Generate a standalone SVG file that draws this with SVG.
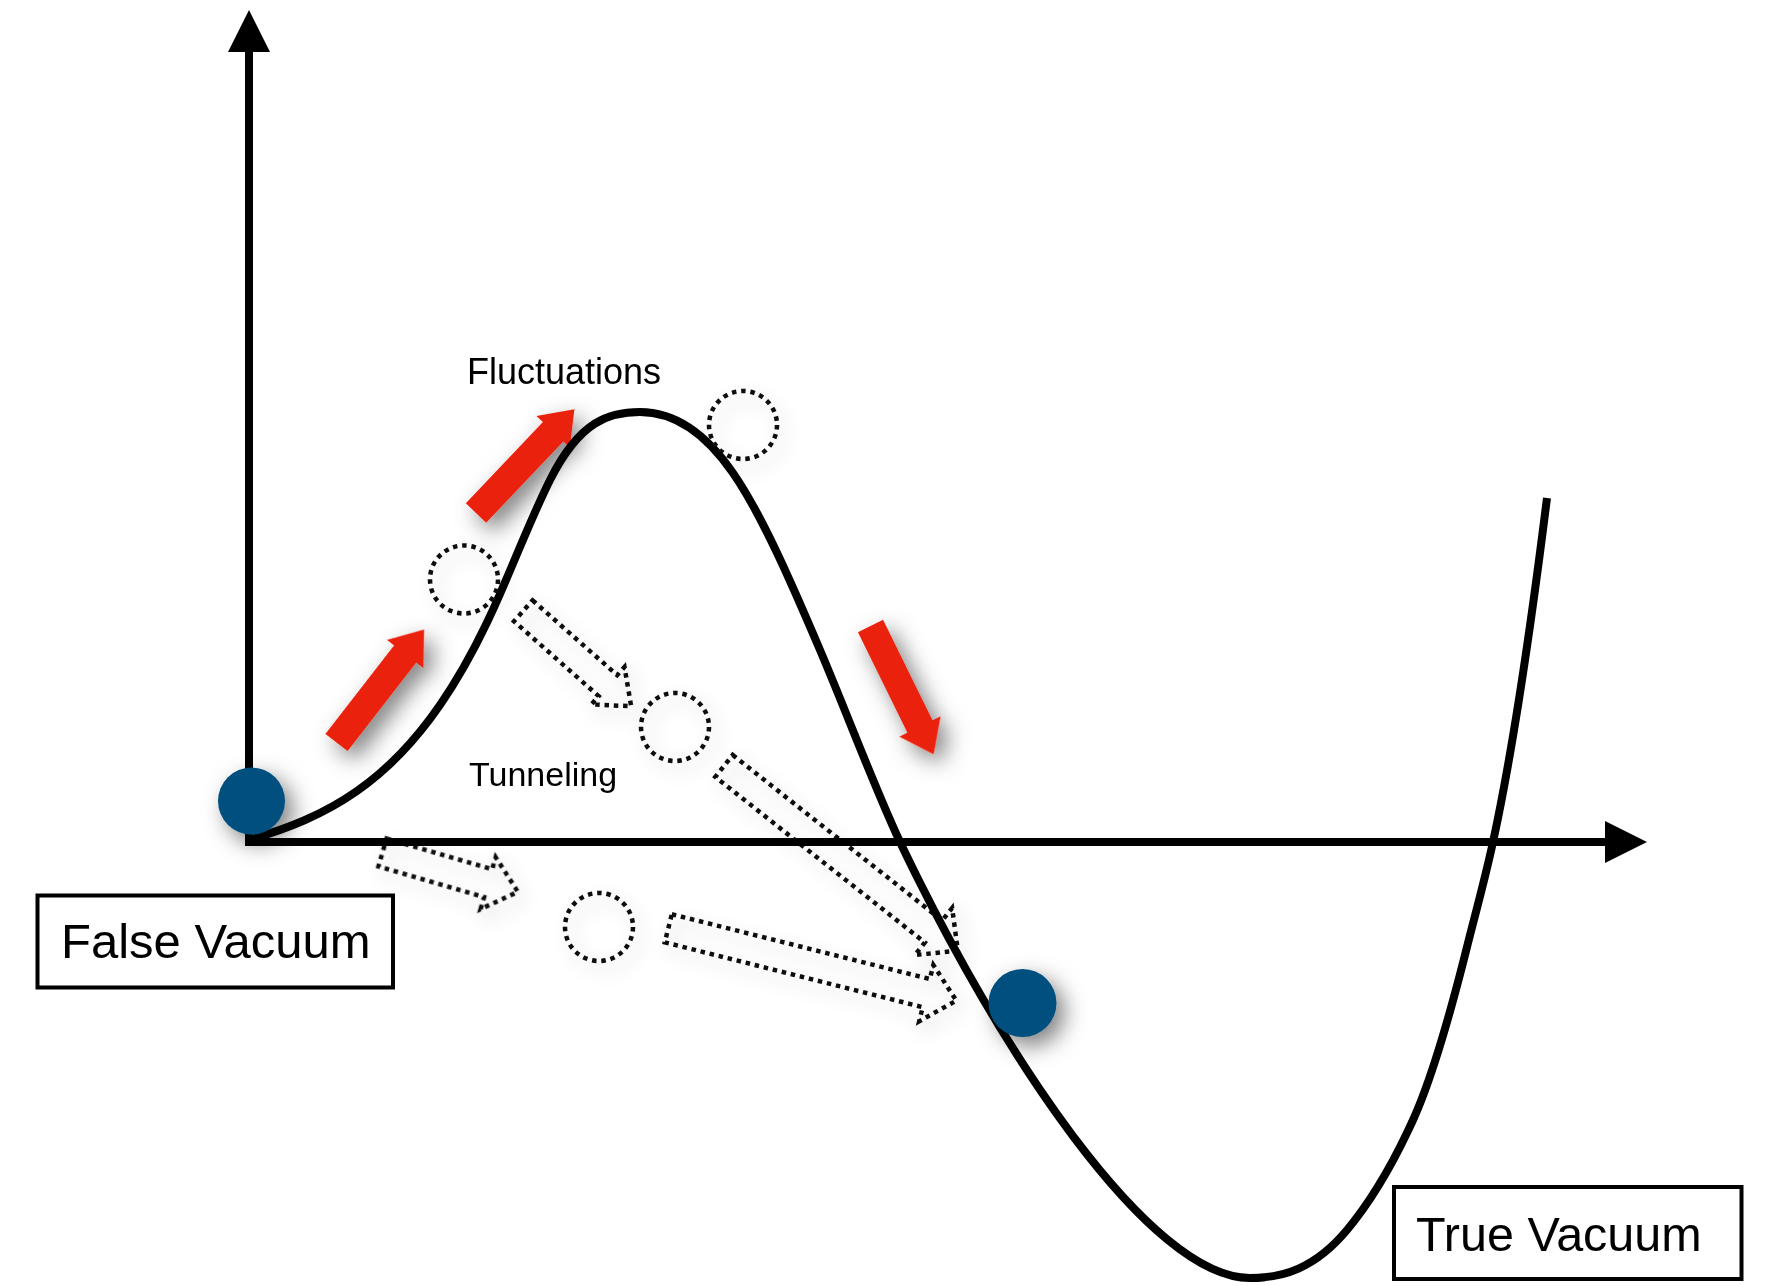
<svg xmlns="http://www.w3.org/2000/svg" width="1768" height="1286" viewBox="0 0 1768 1286">
  <style>
    .axis { stroke: #000; stroke-width: 8; fill: none; stroke-linecap: butt; }
    .curve { stroke: #000; stroke-width: 8; fill: none; stroke-linecap: butt; stroke-linejoin: round; }
    .dot { stroke: #111; stroke-width: 4.5; stroke-dasharray: 4.5 4.8; fill: none; }
    .red { fill: #EA230F; }
    .ball { fill: #04507F; }
    .lbl { font-family: "Liberation Sans", Arial, Helvetica, sans-serif; fill: #000; }
    .box { fill: #fff; stroke: #000; stroke-width: 4; }
  </style>
  <defs>
    <filter id="sh" x="-60%" y="-60%" width="220%" height="220%">
      <feDropShadow dx="8" dy="9" stdDeviation="11" flood-color="#000" flood-opacity="0.5"/>
    </filter>
    <filter id="shl" x="-60%" y="-60%" width="220%" height="220%">
      <feDropShadow dx="6" dy="8" stdDeviation="9" flood-color="#000" flood-opacity="0.22"/>
    </filter>
  </defs>
  <rect width="1768" height="1286" fill="#fff"/>

  <g id="connectors">
    <g id="dotted-arrows" filter="url(#shl)">
      <path class="dot" transform="translate(523.3,610.8) rotate(41.5)" d="M0,-14 L113,-14 L113,-25 L144,0 L113,25 L113,14 L0,14 Z"/>
      <path class="dot" transform="translate(724,766) rotate(38.3)" d="M0,-14 L267,-14 L267,-30 L298,0 L267,30 L267,14 L0,14 Z"/>
      <path class="dot" transform="translate(668.3,928.3) rotate(14.1)" d="M0,-14.5 L266,-14.5 L266,-29 L297,0 L266,29 L266,14.5 L0,14.5 Z"/>
      <path class="dot" transform="translate(382.5,852.5) rotate(16.2)" d="M0,-14.5 L110,-14.5 L110,-27 L141,0 L110,27 L110,14.5 L0,14.5 Z"/>
    </g>
    <g id="axes">
      <path class="axis" d="M249,50 L249,846"/>
      <path class="axis" d="M245,842 L1607,842"/>
      <polygon points="249,10 228,52 270,52" fill="#000"/>
      <polygon points="1647,842 1605,821 1605,863" fill="#000"/>
    </g>
    <g id="red-arrows" filter="url(#sh)">
      <polygon class="red" transform="translate(476,513) rotate(-46.5)" points="0,-14 112,-14 112,-23 143,0 112,23 112,14 0,14"/>
      <polygon class="red" transform="translate(336.5,742.5) rotate(-52.2)" points="0,-14 112,-14 112,-23 143,0 112,23 112,14 0,14"/>
      <polygon class="red" transform="translate(870.5,626) rotate(63.8)" points="0,-14 112,-14 112,-23 143,0 112,23 112,14 0,14"/>
    </g>
  </g>

  <g id="potential-curve">
    <path class="curve" d="M252,839 C287,828.5 322,815.5 357,791 C384.67,771.63 412.33,745.12 440,705 C460,676 480,640 500,594 C516.67,555.67 533.33,513.33 550,480 C580,420 610,412 640,412 C671,412 702,428.05 733,473 C762,515.05 791,581.85 820,650 C846.67,712.67 873.33,784.67 900,842 C1000,1052 1150,1278 1250,1278 C1282.33,1278 1314.67,1268.8 1347,1230 C1369,1203.6 1391,1168.4 1413,1120 C1431,1080.4 1449,1019 1467,947 C1475.67,912.33 1484.33,881.87 1493,842 C1511,759.2 1529,642 1547,498"/>
  </g>

  <g id="dotted-circles" filter="url(#shl)">
    <circle id="circle-a" class="dot" cx="743" cy="425" r="34"/>
    <circle id="circle-b" class="dot" cx="464" cy="579.5" r="34"/>
    <circle id="circle-c" class="dot" cx="675" cy="727" r="34"/>
    <circle id="circle-d" class="dot" cx="599" cy="927" r="34"/>
  </g>

  <g id="ball-false" filter="url(#sh)">
    <circle class="ball" cx="251.5" cy="801" r="33.5"/>
  </g>
  <g id="ball-true" filter="url(#sh)">
    <circle class="ball" cx="1022.5" cy="1003" r="34"/>
  </g>

  <g id="label-fluctuations">
    <text class="lbl" x="467" y="384" font-size="36">Fluctuations</text>
  </g>
  <g id="label-tunneling">
    <text class="lbl" x="469" y="786" font-size="34">Tunneling</text>
  </g>

  <g id="box-false-vacuum">
    <rect class="box" x="37.5" y="895.5" width="355.5" height="92"/>
    <text class="lbl" x="61" y="958" font-size="49">False Vacuum</text>
  </g>
  <g id="box-true-vacuum">
    <rect class="box" x="1394" y="1187" width="347.5" height="92"/>
    <text class="lbl" x="1416" y="1250.5" font-size="48.5">True Vacuum</text>
  </g>
</svg>
